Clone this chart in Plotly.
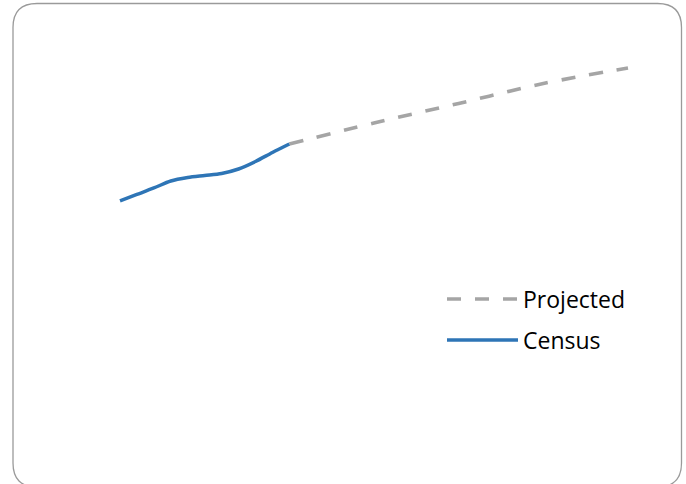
import plotly.graph_objects as go

# Population (millions): census observations and projection
census_years = [1990, 1992, 1994, 1996, 1998, 2000, 2002, 2004, 2006, 2008, 2010]
census_pop = [5.000, 5.114, 5.228, 5.351, 5.412, 5.447, 5.482, 5.561, 5.693, 5.851, 6.000]

projected_years = [2010, 2020, 2030, 2040, 2050]
projected_pop = [6.000, 6.368, 6.711, 7.061, 7.333]

legend_labels = ["Projected", "Census"]

W, H = 686, 484
BLUE = "#2E75B6"
GREY = "#A5A5A5"


def px(x):
    return x / W


def py(y):
    return 1 - y / H


fig = go.Figure()

fig.add_trace(go.Scatter(
    x=projected_years, y=projected_pop, mode="lines",
    line=dict(color=GREY, width=3.6, dash="14px,14px", shape="spline"),
    name=legend_labels[0], showlegend=False, hoverinfo="skip",
))
fig.add_trace(go.Scatter(
    x=census_years, y=census_pop, mode="lines",
    line=dict(color=BLUE, width=3.5, shape="spline", smoothing=0.8),
    name=legend_labels[1], showlegend=False, hoverinfo="skip",
))

# rounded frame around the chart area
L, T, R, B, r = 13, 3.5, 681.5, 487, 24
frame = (
    f"M {px(L)},{py(T + r)} Q {px(L)},{py(T)} {px(L + r)},{py(T)} "
    f"L {px(R - r)},{py(T)} Q {px(R)},{py(T)} {px(R)},{py(T + r)} "
    f"L {px(R)},{py(B - r)} Q {px(R)},{py(B)} {px(R - r)},{py(B)} "
    f"L {px(L + r)},{py(B)} Q {px(L)},{py(B)} {px(L)},{py(B - r)} Z"
)
shapes = [dict(type="path", xref="paper", yref="paper", path=frame,
               line=dict(color="#9A9A9A", width=1.3), fillcolor="rgba(0,0,0,0)")]

# legend drawn by hand: long line samples with labels
annotations = []
legend_rows = [(legend_labels[0], GREY, "dash", 299), (legend_labels[1], BLUE, "solid", 340)]
for label, color, dash, yy in legend_rows:
    shapes.append(dict(type="line", xref="paper", yref="paper",
                       x0=px(447), x1=px(518), y0=py(yy), y1=py(yy),
                       line=dict(color=color, width=3.6,
                                 dash="14px,14px" if dash == "dash" else "solid")))
    annotations.append(dict(xref="paper", yref="paper", x=px(521), y=py(yy),
                            text=label, showarrow=False, xanchor="left", yanchor="middle",
                            font=dict(family="Open Sans", size=23, color="#000000")))

fig.update_layout(
    width=W, height=H,
    margin=dict(l=0, r=0, t=0, b=0),
    paper_bgcolor="white", plot_bgcolor="white",
    xaxis=dict(range=[1975.827, 2056.85], visible=False, showgrid=False, zeroline=False),
    yaxis=dict(range=[0.035, 8.526], visible=False, showgrid=False, zeroline=False),
    shapes=shapes, annotations=annotations, showlegend=False,
)

fig.write_html("out.html")
